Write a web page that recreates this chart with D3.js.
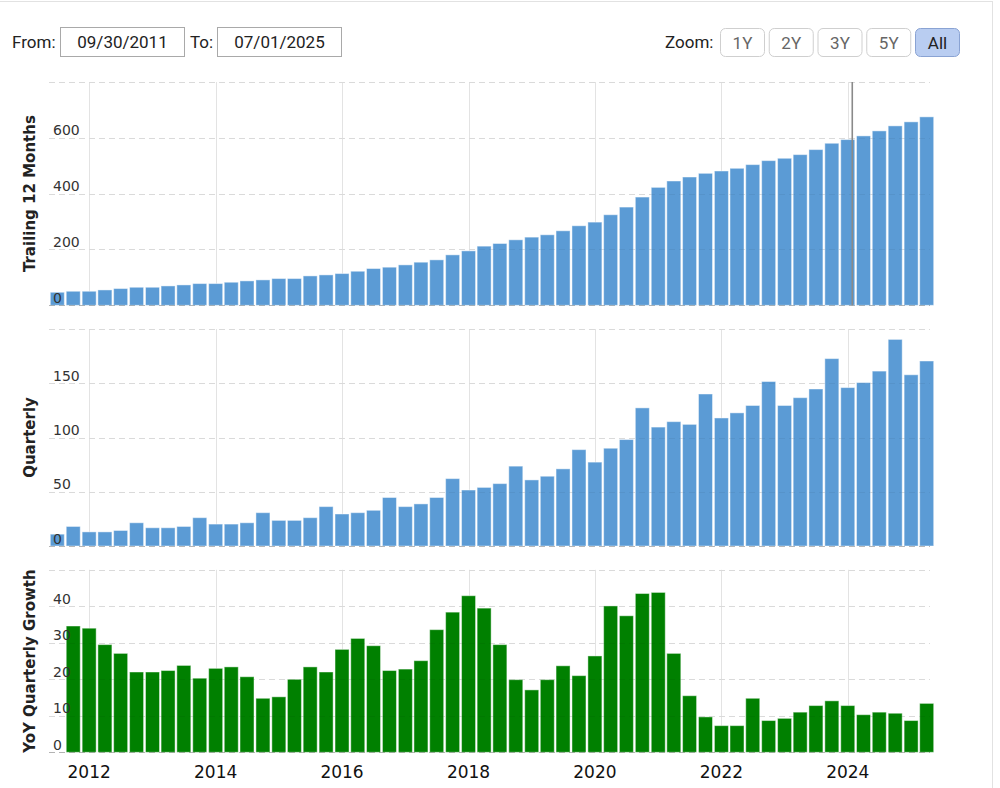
<!DOCTYPE html>
<html><head><meta charset="utf-8">
<script src="https://cdn.jsdelivr.net/npm/d3@7"></script>
<style>body{margin:0;background:#fff}svg{display:block}</style>
</head><body><svg id="c" width="1000" height="788"></svg>
<script>
const quarterEnds = [
 "2011-09-30","2011-12-31",
 "2012-03-31","2012-06-30","2012-09-30","2012-12-31",
 "2013-03-31","2013-06-30","2013-09-30","2013-12-31",
 "2014-03-31","2014-06-30","2014-09-30","2014-12-31",
 "2015-03-31","2015-06-30","2015-09-30","2015-12-31",
 "2016-03-31","2016-06-30","2016-09-30","2016-12-31",
 "2017-03-31","2017-06-30","2017-09-30","2017-12-31",
 "2018-03-31","2018-06-30","2018-09-30","2018-12-31",
 "2019-03-31","2019-06-30","2019-09-30","2019-12-31",
 "2020-03-31","2020-06-30","2020-09-30","2020-12-31",
 "2021-03-31","2021-06-30","2021-09-30","2021-12-31",
 "2022-03-31","2022-06-30","2022-09-30","2022-12-31",
 "2023-03-31","2023-06-30","2023-09-30","2023-12-31",
 "2024-03-31","2024-06-30","2024-09-30","2024-12-31",
 "2025-03-31","2025-06-30"
];
const ttm = [46.7, 50.3, 50.3, 55.0, 60.0, 64.6, 64.6, 69.4, 73.0, 77.8, 77.8, 82.6, 87.4, 91.0, 95.8, 95.8,
 105.3, 108.9, 113.7, 122.0, 131.7, 136.5, 144.8, 154.4, 162.8, 180.7, 195.0, 211.9, 221.4, 234.6, 244.2, 252.6,
 266.9, 284.9, 298.0, 324.4, 351.9, 387.8, 422.5, 445.3, 459.6, 472.8, 481.2, 490.8, 504.0, 518.3, 526.7, 539.8,
 557.8, 580.5, 593.7, 606.9, 624.8, 642.8, 657.2, 675.1];
const quarterly = [10.9, 18.0, 13.0, 13.0, 14.3, 21.4, 16.8, 16.8, 18.0, 26.1, 20.2, 20.2, 21.4, 30.7, 23.6, 23.6,
 26.1, 36.3, 29.5, 30.7, 32.9, 44.7, 36.3, 38.8, 44.7, 62.1, 51.6, 54.0, 57.5, 73.6, 60.9, 64.3,
 71.1, 88.8, 77.3, 90.1, 98.1, 127.3, 109.6, 114.6, 112.1, 140.1, 118.0, 122.7, 129.5, 151.6, 129.5, 136.7,
 144.7, 172.7, 146.0, 150.6, 161.2, 190.4, 157.8, 170.5];
const yoy = [null, 34.6, 34.0, 29.5, 27.1, 22.0, 22.0, 22.4, 23.8, 20.3, 23.0, 23.4, 20.7, 14.8, 15.2, 20.0,
 23.4, 22.0, 28.2, 31.2, 29.2, 22.4, 22.8, 25.1, 33.6, 38.4, 42.9, 39.5, 29.5, 19.9, 17.1, 19.9,
 23.7, 21.0, 26.4, 40.1, 37.4, 43.5, 43.8, 27.1, 15.5, 9.7, 7.3, 7.3, 14.8, 8.7, 9.3, 11.0,
 12.8, 14.1, 12.8, 10.3, 11.0, 10.7, 8.7, 13.4];
const ticksTTM = [0, 200, 400, 600, 800];
const ticksQ = [0, 50, 100, 150, 200];
const ticksYoY = [0, 10, 20, 30, 40, 50];
const yearTicks = ["2012", "2014", "2016", "2018", "2020", "2022", "2024"];
const panelTitles = ["Trailing 12 Months", "Quarterly", "YoY Quarterly Growth"];
const fromDate = "09/30/2011", toDate = "07/01/2025";
const zoomButtons = ["1Y", "2Y", "3Y", "5Y", "All"];
const activeButton = "All";
const cursorDate = "2024-01-27";

const svg = d3.select("#c");
const parse = d3.timeParse("%Y-%m-%d");
const dates = quarterEnds.map(parse);
const x = d3.scaleTime().domain([parse("2011-05-14"), parse("2025-05-19")]).range([49, 935]);
const barCenter = d => d3.timeMonth.offset(d3.timeMonth.floor(d), -2);
const barW = 14;
const gridLeft = 49, gridRight = 930;
const tickFont = "DejaVu Sans, Verdana, sans-serif";

// container borders
svg.append("line").attr("x1", 0).attr("x2", 992.5).attr("y1", 1.5).attr("y2", 1.5).attr("stroke", "#e2e2e2");
svg.append("line").attr("x1", 992.5).attr("x2", 992.5).attr("y1", 1).attr("y2", 788).attr("stroke", "#e2e2e2");

// header
const hf = "Roboto, sans-serif";
svg.append("text").attr("x", 12).attr("y", 48).attr("font-family", hf).attr("font-size", 17).attr("fill", "#222").text("From:");
svg.append("rect").attr("x", 60.5).attr("y", 27.5).attr("width", 124).attr("height", 29).attr("fill", "#fff").attr("stroke", "#a9a9a9");
svg.append("text").attr("x", 122.5).attr("y", 48).attr("text-anchor", "middle").attr("font-family", hf).attr("font-size", 17).attr("fill", "#222").text(fromDate);
svg.append("text").attr("x", 190).attr("y", 48).attr("font-family", hf).attr("font-size", 17).attr("fill", "#222").text("To:");
svg.append("rect").attr("x", 217.5).attr("y", 27.5).attr("width", 124).attr("height", 29).attr("fill", "#fff").attr("stroke", "#a9a9a9");
svg.append("text").attr("x", 279.5).attr("y", 48).attr("text-anchor", "middle").attr("font-family", hf).attr("font-size", 17).attr("fill", "#222").text(toDate);
svg.append("text").attr("x", 665).attr("y", 48).attr("font-family", hf).attr("font-size", 17).attr("fill", "#222").text("Zoom:");
const bx = d3.scalePoint().domain(zoomButtons).range([720.5, 915.5]);
const bg = svg.selectAll("g.btn").data(zoomButtons).join("g").attr("class", "btn")
  .attr("transform", d => `translate(${bx(d)},28.5)`);
bg.append("rect").attr("width", 44).attr("height", 28).attr("rx", 5)
  .attr("fill", d => d === activeButton ? "#b9cdf1" : "#fff")
  .attr("stroke", d => d === activeButton ? "#8aa3d3" : "#cfcfcf");
bg.append("text").attr("x", 22).attr("y", 20).attr("text-anchor", "middle").attr("font-family", hf).attr("font-size", 17)
  .attr("fill", d => d === activeButton ? "#222" : "#666").text(d => d);

const panels = [
  {title: panelTitles[0], values: ttm, ticks: ticksTTM, top: 82, bottom: 305.3, fill: "#5b9bd5", stroke: "rgba(255,255,255,0.45)"},
  {title: panelTitles[1], values: quarterly, ticks: ticksQ, top: 329, bottom: 546, fill: "#5b9bd5", stroke: "rgba(255,255,255,0.45)"},
  {title: panelTitles[2], values: yoy, ticks: ticksYoY, top: 569.8, bottom: 752.3, fill: "#008000", stroke: "rgba(255,255,255,0.45)"}
];

const yearDates = yearTicks.map(t => parse(t + "-01-01"));

panels.forEach((p, pi) => {
  const y = d3.scaleLinear().domain([0, d3.max(p.ticks)]).range([p.bottom, p.top]);
  const g = svg.append("g");
  g.selectAll("line.v").data(yearDates).join("line")
    .attr("x1", d => Math.round(x(d)) + 0.5).attr("x2", d => Math.round(x(d)) + 0.5)
    .attr("y1", p.top).attr("y2", p.bottom).attr("stroke", "#e3e3e3").attr("stroke-width", 1);
  g.selectAll("line.h").data(p.ticks).join("line")
    .attr("x1", gridLeft).attr("x2", gridRight)
    .attr("y1", d => Math.round(y(d)) + 0.5).attr("y2", d => Math.round(y(d)) + 0.5)
    .attr("stroke", "#e6e6e6").attr("stroke-dasharray", "6,4");
  const data = p.values.map((v, i) => ({d: dates[i], v})).filter(o => o.v != null);
  g.selectAll("rect.bar").data(data).join("rect")
    .attr("x", o => x(barCenter(o.d)) - barW / 2)
    .attr("width", barW)
    .attr("y", o => y(o.v))
    .attr("height", o => y(0) - y(o.v))
    .attr("fill", p.fill).attr("stroke", p.stroke).attr("stroke-width", 1);
  g.selectAll("line.ho").data(p.ticks).join("line")
    .attr("x1", gridLeft).attr("x2", gridRight)
    .attr("y1", d => Math.round(y(d)) + 0.5).attr("y2", d => Math.round(y(d)) + 0.5)
    .attr("stroke", d => d === 0 ? "rgba(0,0,0,0.22)" : "rgba(0,0,0,0.05)").attr("stroke-dasharray", "6,4");
  if (pi === 0) {
    const cx = x(parse(cursorDate));
    g.append("line").attr("x1", cx).attr("x2", cx).attr("y1", p.top).attr("y2", p.bottom)
      .attr("stroke", "#8a8a8a").attr("stroke-width", 1.6);
  }
  g.selectAll("text.tick").data(p.ticks.slice(0, -1)).join("text")
    .attr("x", 53).attr("y", d => y(d) - 2.5)
    .attr("font-family", tickFont).attr("font-size", 14).attr("fill", "#333")
    .text(d => d);
  g.append("text")
    .attr("transform", `translate(35,${(p.top + p.bottom) / 2}) rotate(-90)`)
    .attr("text-anchor", "middle")
    .attr("font-family", tickFont).attr("font-weight", "bold").attr("font-size", 15).attr("fill", "#222")
    .text(p.title);
});

svg.selectAll("text.year").data(yearDates).join("text")
  .attr("x", d => x(d)).attr("y", 777.5).attr("text-anchor", "middle")
  .attr("font-family", tickFont).attr("font-size", 17).attr("fill", "#111")
  .text(d => d3.timeFormat("%Y")(d));
</script>
</body></html>
